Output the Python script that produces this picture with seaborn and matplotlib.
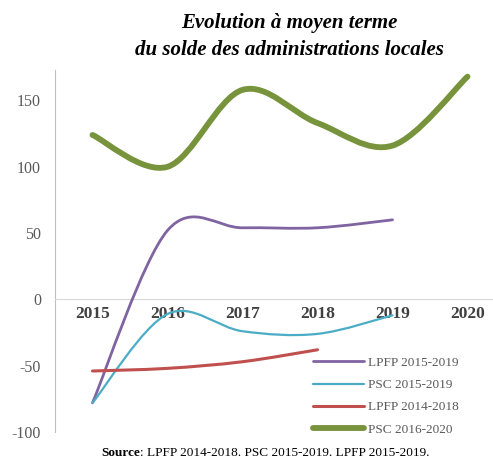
import numpy as np
import pandas as pd
import seaborn as sns
import matplotlib.pyplot as plt
from matplotlib.path import Path
from matplotlib.patches import PathPatch

# valeurs
annees = [2015, 2016, 2017, 2018, 2019, 2020]
lpfp_2015_2019 = [-78, 52, 54, 54, 60]
psc_2015_2019 = [-78, -11, -24, -26, -12]
lpfp_2014_2018 = [-54, -52, -47, -38]
psc_2016_2020 = [124, 100, 158, 133, 116, 168]

series = [
    ("LPFP 2015-2019", lpfp_2015_2019, "#8064A2", 2.0),
    ("PSC 2015-2019", psc_2015_2019, "#4BACC6", 1.6),
    ("LPFP 2014-2018", lpfp_2014_2018, "#C0504D", 2.2),
    ("PSC 2016-2020", psc_2016_2020, "#77933C", 4.2),
]


def smooth_path(x, y):
    # courbe lissee facon Excel (bezier, tension 1/6)
    pts = np.column_stack([x, y]).astype(float)
    n = len(pts)
    verts = [pts[0]]
    codes = [Path.MOVETO]
    for i in range(n - 1):
        p0 = pts[max(i - 1, 0)]
        p1 = pts[i]
        p2 = pts[i + 1]
        p3 = pts[min(i + 2, n - 1)]
        verts += [p1 + (p2 - p0) / 6, p2 - (p3 - p1) / 6, p2]
        codes += [Path.CURVE4] * 3
    return Path(verts, codes)


sns.set_style("white")
plt.rcParams['font.family'] = ['Liberation Serif', 'DejaVu Serif']

fig = plt.figure(figsize=(4.93, 4.59), dpi=100)
W, H = 493, 459
ax = fig.add_axes([55 / W, 1 - 432 / H, 450 / W, 362 / H])

for nom, vals, couleur, lw in series:
    df = pd.DataFrame({"annee": annees[:len(vals)], "solde": vals})
    sns.lineplot(data=df, x="annee", y="solde", color=couleur, linewidth=lw,
                 label=nom, ax=ax, legend=False)
    line = ax.lines[-1]
    xs, ys = line.get_xdata(), line.get_ydata()
    ax.add_patch(PathPatch(smooth_path(xs, ys), facecolor="none", edgecolor=couleur,
                           linewidth=lw, capstyle="round", joinstyle="round", zorder=3))
    line.set_data([], [])

ax.set_xlim(2014.5, 2020.5)
ax.set_ylim(-100, 173)
ax.set_xticks(annees)
ax.set_xticklabels([str(a) for a in annees])
ax.set_yticks([-100, -50, 0, 50, 100, 150])
ax.set_yticklabels(["-100", "-50", "0", "50", "100", "150"])
ax.set_xlabel("")
ax.set_ylabel("")

ax.spines['bottom'].set_position(('data', 0))
ax.spines['bottom'].set_color("#D9D9D9")
ax.spines['left'].set_color("#BFBFBF")
ax.spines['top'].set_visible(False)
ax.spines['right'].set_visible(False)
ax.tick_params(axis='x', length=0, pad=5, labelsize=12.5, labelcolor="#404040")
ax.tick_params(axis='y', length=0, pad=10, labelsize=11.5, labelcolor="#595959")
for t in ax.get_xticklabels():
    t.set_fontweight("bold")

leg = ax.legend(loc="lower left", bbox_to_anchor=(246 / 450, -0.043), frameon=False,
                fontsize=9.5, handlelength=3.9, handletextpad=0.3, labelspacing=0.76,
                labelcolor="#595959")

fig.text(289 / W, 1 - 23 / H, "Evolution à moyen terme", ha="center", va="center",
         fontsize=15, fontweight="bold", fontstyle="italic", color="black")
fig.text(289 / W, 1 - 50 / H, "du solde des administrations locales", ha="center", va="center",
         fontsize=15, fontweight="bold", fontstyle="italic", color="black")

fig.text(140 / W, 1 - 453 / H, "Source", ha="right", va="center", fontsize=9.5,
         fontweight="bold", color="black")
fig.text(140 / W, 1 - 453 / H, ": LPFP 2014-2018. PSC 2015-2019. LPFP 2015-2019.",
         ha="left", va="center", fontsize=9.5, color="black")

fig.savefig("out.png", dpi=100)
